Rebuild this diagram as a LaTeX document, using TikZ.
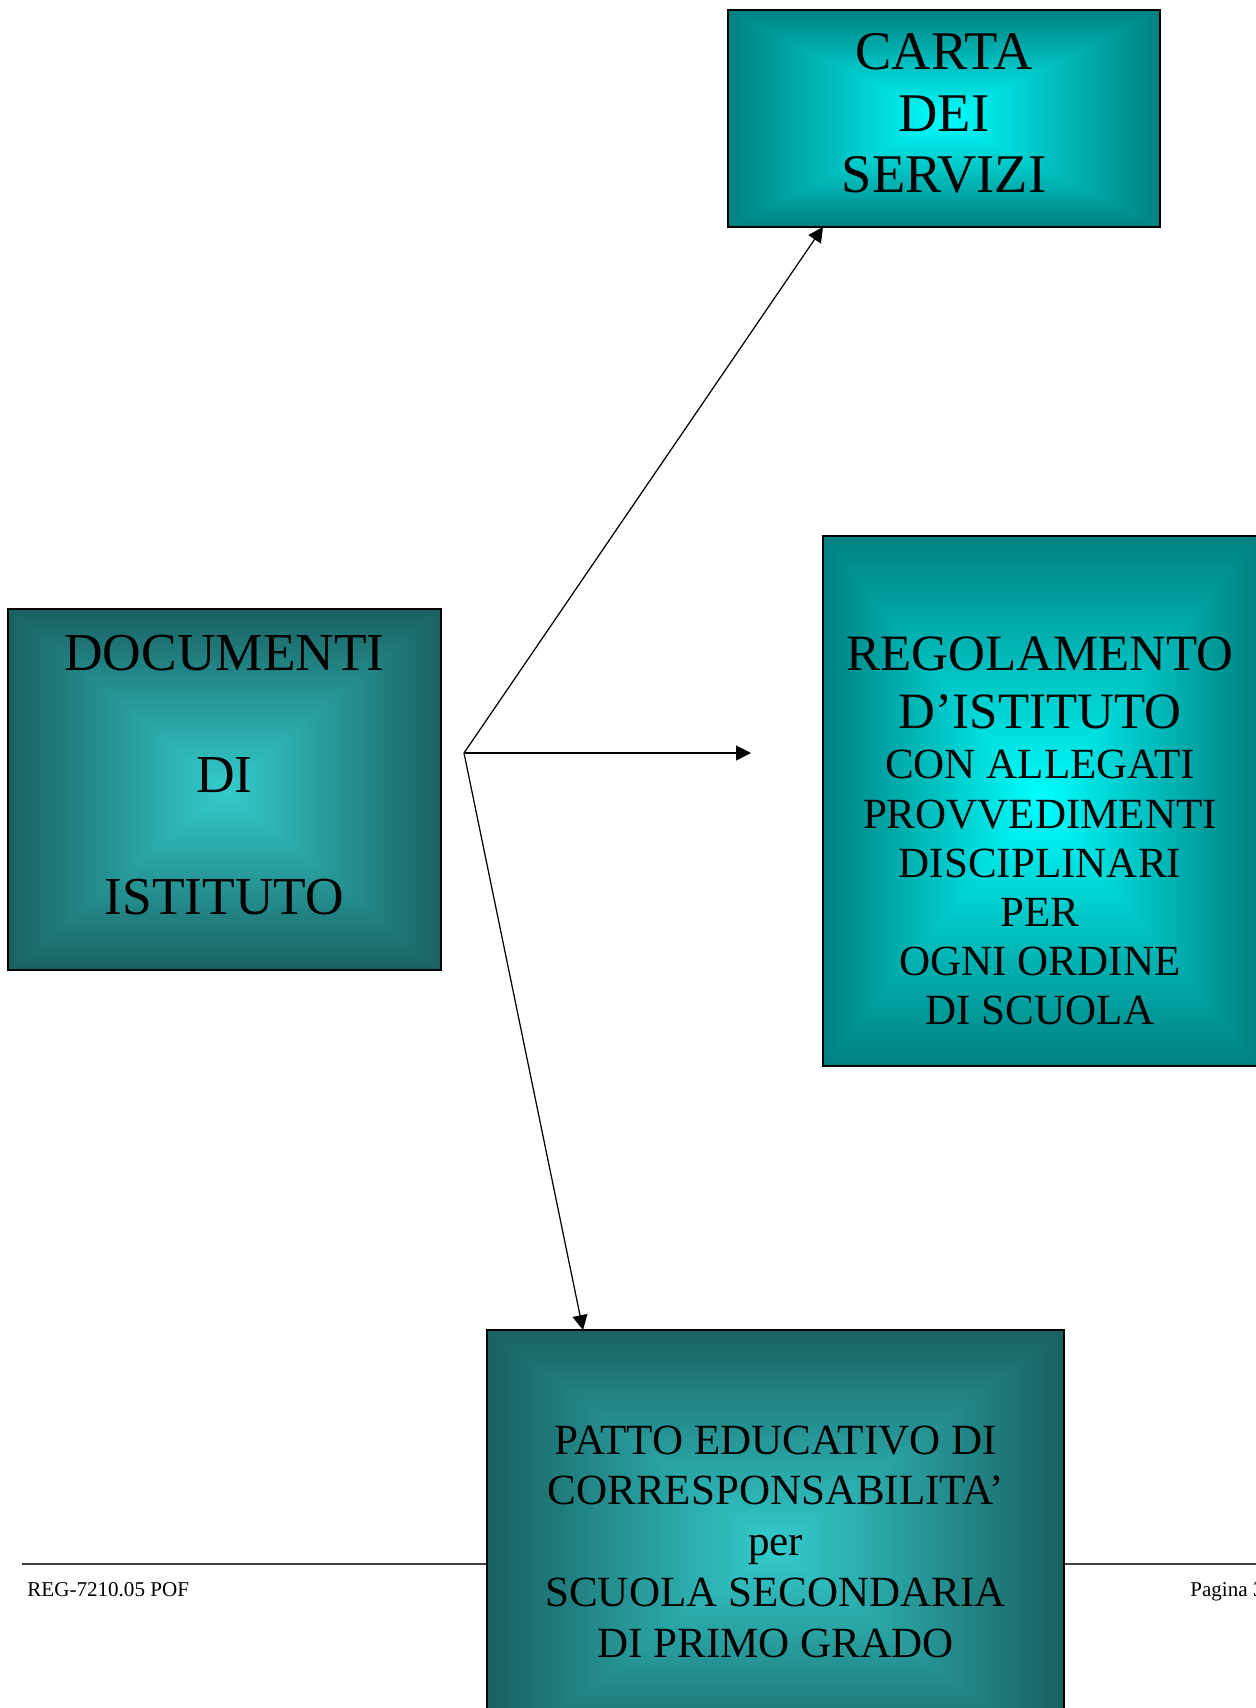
\documentclass[tikz,border=0pt]{standalone}
\usepackage{fontspec}
\setmainfont{Liberation Serif}
\usetikzlibrary{arrows.meta,backgrounds}

\definecolor{tealout}{RGB}{0,128,128}
\definecolor{tealin}{RGB}{0,255,255}
\definecolor{darkout}{RGB}{26,97,97}
\definecolor{darkin}{RGB}{51,204,204}

\newcommand{\boxshade}[3]{%
\shade[top color=#2,bottom color=#2,middle color=#3] (#1.north west) rectangle (#1.south east);
\shade[left color=#2,right color=#3] (#1.north west)--(#1.south west)--(#1.center)--cycle;
\shade[left color=#3,right color=#2] (#1.north east)--(#1.south east)--(#1.center)--cycle;}

\tikzset{
  box/.style={draw,line width=1.1pt,inner sep=0pt,outer sep=0pt},
  boxtext/.style={align=center,inner sep=0pt},
  arr/.style={line width=0.7pt,-{Triangle[length=8.5pt,width=8.5pt]}},
  foot/.style={font=\fontsize{12}{14}\selectfont,inner sep=0pt,anchor=base west}
}

\begin{document}
\begin{tikzpicture}[x=0.02cm,y=-0.02cm]
\useasboundingbox (0,0) rectangle (1256,1708);

\node[box,minimum width=8.64cm,minimum height=4.34cm] (carta) at (944,118.5) {};
\node[box,minimum width=8.66cm,minimum height=7.22cm] (documenti) at (224.5,789.5) {};
\node[box,minimum width=8.68cm,minimum height=10.6cm] (regolamento) at (1040,801) {};
\node[box,minimum width=11.54cm,minimum height=8.68cm] (patto) at (775.5,1547) {};

\begin{scope}[on background layer]
\draw[line width=0.6pt,darkgray] (22,1564)--(1256,1564);
\boxshade{carta}{tealout}{tealin}
\boxshade{documenti}{darkout}{darkin}
\boxshade{regolamento}{tealout}{tealin}
\boxshade{patto}{darkout}{darkin}
\end{scope}

\node[boxtext,font=\fontsize{31}{35}\selectfont] (cartaTxt) at (944,113.5) {CARTA\\DEI\\SERVIZI};
\node[boxtext,font=\fontsize{30.4}{34.7}\selectfont] (documentiTxt) at (224.5,775)
  {DOCUMENTI\\[34.7pt]DI\\[34.7pt]ISTITUTO};
\node[boxtext,font=\fontsize{24.5}{28}\selectfont] (regolamentoTxt) at (1040,831)
  {{\fontsize{29}{28}\selectfont REGOLAMENTO}\\[5pt]{\fontsize{29}{28}\selectfont D’ISTITUTO}\\[0.7pt]CON ALLEGATI\\PROVVEDIMENTI\\DISCIPLINARI\\PER\\OGNI ORDINE\\DI SCUOLA};
\node[boxtext,font=\fontsize{24.5}{28.9}\selectfont] (pattoTxt) at (775.5,1541.5)
  {PATTO EDUCATIVO DI\\CORRESPONSABILITA’\\per\\SCUOLA SECONDARIA\\DI PRIMO GRADO};

\node[foot] (codice) at (27,1596) {REG-7210.05 POF};
\node[foot] (pagina) at (1190,1596) {Pagina 3};

\coordinate (hub) at (464,753);
\coordinate (regArrow) at (751,753);
\draw[arr] (hub)--([xshift=1.9cm]carta.south west);
\draw[arr] (hub)--(regArrow);
\draw[arr] (hub)--([xshift=1.92cm]patto.north west);
\end{tikzpicture}
\end{document}
